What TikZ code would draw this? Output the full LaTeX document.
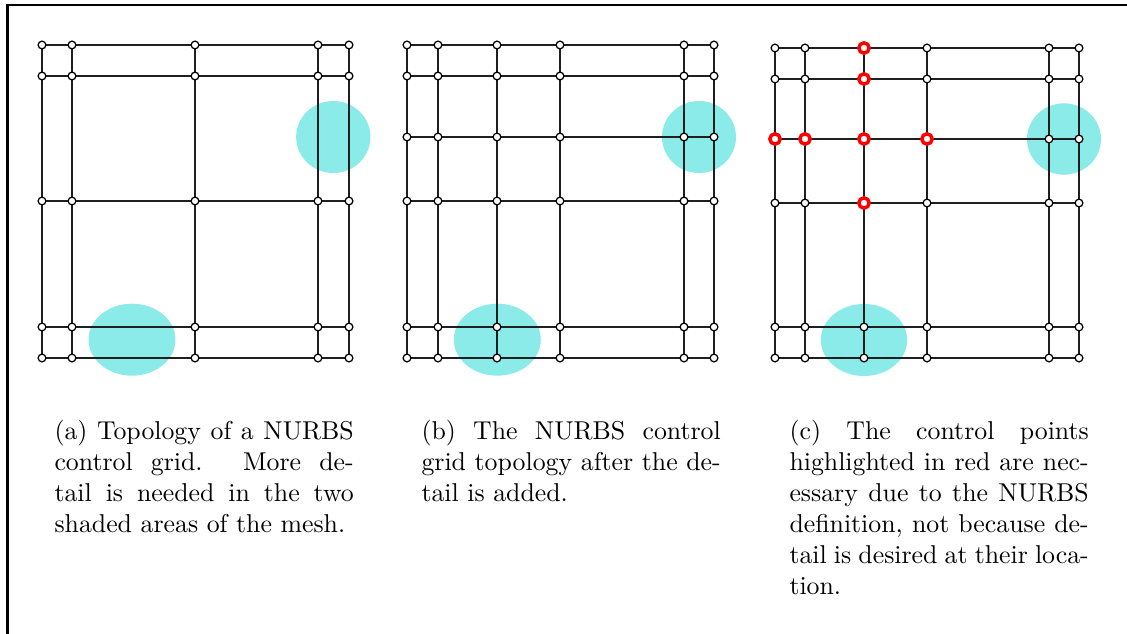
\documentclass[tikz,border=0pt]{standalone}
\definecolor{shade}{RGB}{138,235,233}
\definecolor{hired}{RGB}{255,0,0}
\tikzset{
  gridline/.style={line width=0.68pt, draw=black!88},
  cpt/.style={circle, draw=black, fill=white, line width=0.5pt, minimum size=3pt, inner sep=0pt},
  redpt/.style={circle, draw=hired, fill=white, line width=1.35pt, minimum size=4pt, inner sep=0pt},
  blob/.style={fill=shade},
  captext/.style={anchor=base west, inner sep=0pt},
  frameline/.style={line width=1.1pt, draw=black}
}
\newcommand\drawpanel[5]{%
  \foreach \xx [count=\i] in {#2}{%
    \foreach \yy [count=\j] in {#3}{%
      \coordinate (#1-\i-\j) at (\xx,\yy);
    }%
  }%
  \foreach \j in {1,...,#5}{\draw[gridline] (#1-1-\j) -- (#1-#4-\j);}
  \foreach \i in {1,...,#4}{\draw[gridline] (#1-\i-1) -- (#1-\i-#5);}
  \foreach \i in {1,...,#4}{%
    \foreach \j in {1,...,#5}{%
      \node[cpt] (#1-p-\i-\j) at (#1-\i-\j) {};
    }%
  }%
}
\begin{document}
\begin{tikzpicture}[x=0.3876pt,y=-0.3876pt]
\useasboundingbox (0,0) rectangle (1127,634);

% frame
\coordinate (ftl) at (7.5,5);
\coordinate (ftr) at (1130,5);
\coordinate (fbl) at (7.5,640);
\draw[frameline] (ftr) -- (ftl) -- (fbl);

% shaded areas
\fill[blob] (333.3,137) ellipse [x radius=14.4pt, y radius=13.95pt];
\fill[blob] (132,339.7) ellipse [x radius=16.86pt, y radius=13.95pt];
\fill[blob] (699,137) ellipse [x radius=14.34pt, y radius=13.95pt];
\fill[blob] (497.3,339.7) ellipse [x radius=16.86pt, y radius=13.95pt];
\fill[blob] (1064,139) ellipse [x radius=14.34pt, y radius=13.84pt];
\fill[blob] (864,340) ellipse [x radius=16.74pt, y radius=13.95pt];

% grids
\drawpanel{a}{42,72,195,318,349}{45,76,201,327,358}{5}{5}
\drawpanel{b}{407,438,497,560,684,714}{45,76,137,201,327,358}{6}{6}
\drawpanel{c}{775,805,864,927,1049,1079}{48,79,139,203,327,358}{6}{6}

% red control points
\foreach \i/\j in {3/1,3/2,1/3,2/3,3/3,4/3,3/4}{%
  \node[redpt] (c-r-\i-\j) at (c-\i-\j) {};
}

% captions
\node[captext] (capa) at (54,440) {\parbox[t]{116pt}{(a) Topology of a NURBS\linebreak control grid.  More de-\linebreak tail is needed in the two\linebreak shaded areas of the mesh.}};
\node[captext] (capb) at (421,440) {\parbox[t]{116pt}{(b) The NURBS control\linebreak grid topology after the de-\linebreak tail is added.}};
\node[captext] (capc) at (789,440) {\parbox[t]{116pt}{(c) The control points\linebreak highlighted in red are nec-\linebreak essary due to the NURBS\linebreak definition, not because de-\linebreak tail is desired at their loca-\linebreak tion.}};
\end{tikzpicture}
\end{document}
